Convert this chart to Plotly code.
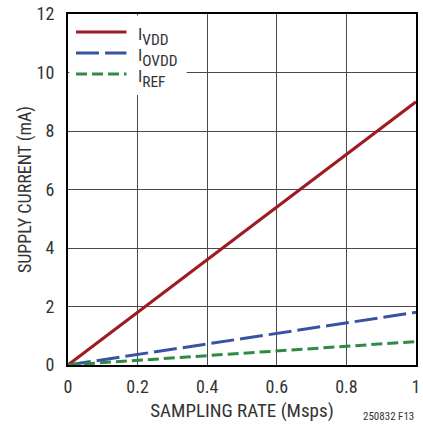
import plotly.graph_objects as go

rate = [0, 1]
i_vdd = [0, 9.0]
i_ovdd = [0, 1.8]
i_ref = [0, 0.8]
subs = ["VDD", "OVDD", "REF"]
colors = ["#9e1b22", "#3953a4", "#2f8a44"]
dashes = ["solid", "23px,6px", "11px,5px"]
x_ticks = [0, 0.2, 0.4, 0.6, 0.8, 1]
x_labels = ["0", "0.2", "0.4", "0.6", "0.8", "1"]
y_ticks = [0, 2, 4, 6, 8, 10, 12]

FONT = "Liberation Sans Narrow, Roboto Condensed, Arial Narrow, Liberation Sans, sans-serif"

fig = go.Figure()
for ys, sub, col, dsh in zip([i_vdd, i_ovdd, i_ref], subs, colors, dashes):
    fig.add_trace(go.Scatter(x=rate, y=ys, mode="lines", name="I<sub>" + sub + "</sub>",
                             line=dict(color=col, width=3, dash=dsh), showlegend=False))

# manual legend (sample lines + labels) on a white box
shapes = [dict(type="rect", xref="paper", yref="paper", x0=0.004, x1=0.341, y0=0.769, y1=0.996,
               fillcolor="white", line=dict(width=0), layer="above")]
annotations = []
leg_y = [0.949, 0.889, 0.829]
for yy, sub, col, dsh in zip(leg_y, subs, colors, dashes):
    shapes.append(dict(type="line", xref="paper", yref="paper", x0=0.023, x1=0.168,
                       y0=yy, y1=yy, line=dict(color=col, width=3, dash=dsh), layer="above"))
    annotations.append(dict(text="<span style='font-size:17px'>I</span><sub>" + sub + "</sub>",
                            xref="paper", yref="paper", x=0.195, y=yy - 0.012,
                            xanchor="left", yanchor="middle", showarrow=False,
                            font=dict(size=22, color="#333")))
annotations.append(dict(text="250832 F13", xref="paper", yref="paper", x=1.0, y=-0.172,
                        xanchor="right", yanchor="bottom", showarrow=False,
                        font=dict(size=11, color="#333")))

fig.update_layout(
    width=423, height=427,
    margin=dict(l=68, r=3, t=14, b=62),
    paper_bgcolor="white", plot_bgcolor="white",
    font=dict(family=FONT, size=18, color="#333"),
    showlegend=False,
    shapes=shapes,
    annotations=annotations,
)
fig.update_xaxes(range=[0, 1], tickvals=x_ticks, ticktext=x_labels,
                 showgrid=True, gridcolor="#4a4a4a", gridwidth=1,
                 showline=True, linecolor="black", linewidth=2, mirror=True,
                 ticks="", zeroline=False, ticklabelstandoff=4,
                 title=dict(text="SAMPLING RATE (Msps)", standoff=8, font=dict(size=19)))
fig.update_yaxes(range=[0, 12], tickvals=y_ticks,
                 showgrid=True, gridcolor="#4a4a4a", gridwidth=1,
                 showline=True, linecolor="black", linewidth=2, mirror=True,
                 ticks="", zeroline=False, ticklabelstandoff=8,
                 title=dict(text="SUPPLY CURRENT (mA)", standoff=0, font=dict(size=18)))

fig.write_html("out.html", config={"displayModeBar": False},
               post_script="document.body.style.margin='0';")
